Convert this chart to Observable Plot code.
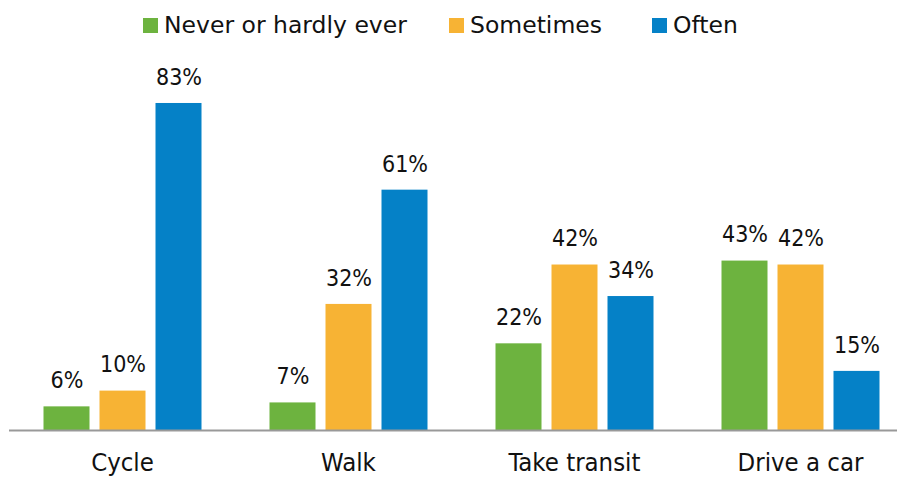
<!DOCTYPE html>
<html>
<head>
<meta charset="utf-8">
<script src="https://cdn.jsdelivr.net/npm/d3@7"></script>
<script src="https://cdn.jsdelivr.net/npm/@observablehq/plot@0.6"></script>
<style>
  body { margin: 0; background: #fff; font-family: "DejaVu Sans", sans-serif; }
  #legend { height: 45px; position: relative; font-size: 23.5px; color: #111; }
  .item { position: absolute; top: 11px; display: flex; align-items: center; white-space: nowrap; }
  .sw { width: 15px; height: 15px; margin-right: 6px; display: inline-block; }
</style>
</head>
<body>
<div id="legend"></div>
<div id="chart"></div>
<script>
const categories = ["Cycle", "Walk", "Take transit", "Drive a car"];
const series = ["Never or hardly ever", "Sometimes", "Often"];
const never = [6, 7, 22, 43];
const sometimes = [10, 32, 42, 42];
const often = [83, 61, 34, 15];
const colors = ["#6db33f", "#f7b334", "#0581c7"];

const seriesValues = [never, sometimes, often];
const data = [];
categories.forEach((c, i) => {
  series.forEach((s, j) => data.push({category: c, series: s, value: seriesValues[j][i]}));
});

const legendX = [143, 449, 652];
const legend = document.getElementById("legend");
series.forEach((s, j) => {
  const it = document.createElement("div");
  it.className = "item";
  it.style.left = legendX[j] + "px";
  it.innerHTML = `<span class="sw" style="background:${colors[j]}"></span><span>${s}</span>`;
  legend.appendChild(it);
});

const chart = Plot.plot({
  width: 897,
  height: 432,
  marginLeft: 8.5,
  marginRight: -15.5,
  marginTop: 30.4,
  marginBottom: 47,
  style: {fontFamily: '"DejaVu Sans Condensed", "DejaVu Sans", sans-serif', fontStretch: "condensed", fontSize: "25.5px", color: "#111"},
  facet: {data, x: "category"},
  fx: {domain: categories, padding: 0, label: null, tickSize: 0, tickPadding: 22, tickFormat: d => d},
  x: {domain: series, paddingInner: 0.18, paddingOuter: 0.59, axis: null},
  y: {domain: [0, 90], axis: null},
  color: {domain: series, range: colors},
  marks: [
    Plot.barY(data, {x: "series", y: "value", fill: "series"}),
    Plot.ruleY([0], {stroke: "#999", strokeWidth: 2}),
    Plot.text(data, {x: "series", y: "value", text: d => d.value + "%", dy: -26, fontSize: 23, fill: "#111"})
  ]
});
document.getElementById("chart").appendChild(chart);
</script>
</body>
</html>
